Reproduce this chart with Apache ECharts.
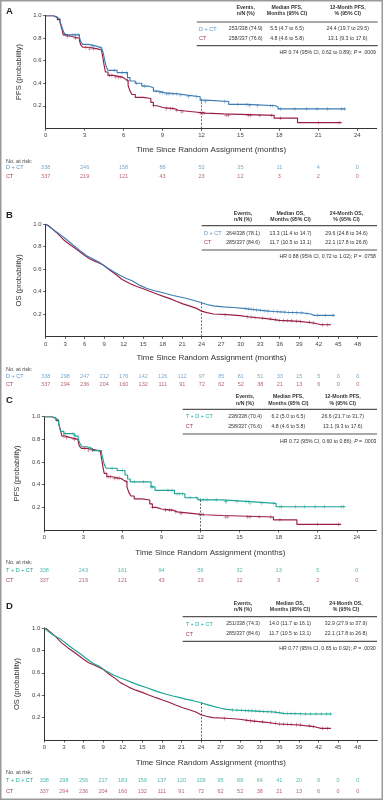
<!DOCTYPE html>
<html><head><meta charset="utf-8">
<script src="https://cdn.jsdelivr.net/npm/echarts@6/dist/echarts.min.js"></script>
<style>html,body{margin:0;padding:0;background:#fff}#c{width:383px;height:800px}</style>
</head><body><div id="c"></div><script>
// ---------- DATA ----------
const xTicksPFS = [0,3,6,9,12,15,18,21,24];
const xTicksOS = [0,3,6,9,12,15,18,21,24,27,30,33,36,39,42,45,48];
const yTicks = [0.2,0.4,0.6,0.8,1.0];

// Kaplan-Meier PFS step points [month, probability]
const pfsDCT = [[0,1],[0.6,0.985],[0.9,0.97],[1.1,0.95],[1.25,0.9],[1.4,0.85],[1.5,0.83],[2.6,0.81],[2.7,0.77],[2.85,0.745],[3.3,0.73],[3.9,0.715],[4.3,0.70],[4.45,0.66],[4.55,0.6],[4.65,0.55],[4.8,0.515],[5.5,0.495],[6.3,0.45],[6.5,0.42],[6.9,0.40],[7.4,0.375],[7.9,0.36],[8.3,0.33],[8.7,0.315],[9.2,0.305],[10.3,0.295],[10.9,0.28],[11.9,0.25],[12.3,0.238],[14.1,0.212],[15.6,0.2],[17.7,0.19],[17.9,0.172],[23.1,0.172]];
const pfsCT = [[0,1],[0.6,0.985],[0.9,0.965],[1.1,0.94],[1.25,0.88],[1.35,0.83],[1.6,0.815],[2.0,0.80],[2.6,0.78],[2.7,0.74],[2.85,0.72],[3.3,0.705],[4.0,0.695],[4.3,0.68],[4.4,0.63],[4.5,0.56],[4.6,0.5],[4.8,0.47],[5.2,0.455],[5.9,0.44],[6.1,0.425],[6.35,0.38],[6.5,0.33],[6.65,0.30],[6.9,0.275],[7.5,0.265],[8.1,0.23],[8.3,0.2],[8.6,0.185],[9.0,0.175],[9.9,0.16],[10.2,0.145],[11.5,0.135],[12.3,0.128],[13.7,0.115],[17.6,0.09],[19.4,0.05],[22.8,0.05]];
const pfsTDCT = [[0,1],[0.6,0.985],[0.9,0.97],[1.1,0.94],[1.25,0.87],[1.5,0.85],[2.3,0.83],[2.6,0.805],[2.75,0.76],[2.9,0.735],[3.3,0.72],[3.7,0.70],[4.4,0.675],[4.5,0.63],[4.6,0.58],[4.75,0.545],[5.6,0.525],[6.2,0.485],[6.4,0.45],[6.6,0.425],[8.2,0.38],[8.5,0.35],[10.0,0.32],[10.8,0.285],[11.8,0.266],[13.7,0.25],[15.8,0.235],[17.8,0.205],[23.1,0.205]];

// OS curves [month, probability]
const osDCT = [[0,1],[0.5,0.98],[1.2,0.95],[2.2,0.91],[3.2,0.865],[4.2,0.815],[5.3,0.765],[6.3,0.72],[7.3,0.69],[8.3,0.66],[9.4,0.615],[10.4,0.578],[11.4,0.545],[12.5,0.515],[13.3,0.497],[14.5,0.455],[15.5,0.43],[16.6,0.41],[17.6,0.396],[18.6,0.38],[19.6,0.365],[20.7,0.352],[21.7,0.338],[22.7,0.323],[24,0.30],[24.8,0.285],[25.8,0.272],[27.3,0.264],[28.9,0.258],[30.4,0.25],[31.9,0.24],[33.5,0.23],[35,0.222],[37,0.215],[39.6,0.209],[40.8,0.2],[41.2,0.188],[44.5,0.188]];
const osCT = [[0,1],[0.4,0.99],[0.7,0.98],[1.7,0.925],[2.7,0.865],[3.7,0.82],[4.8,0.775],[5.8,0.73],[6.8,0.69],[7.8,0.665],[8.9,0.635],[9.9,0.59],[10.9,0.548],[11.7,0.51],[12.2,0.495],[13,0.47],[14,0.445],[15,0.425],[16,0.402],[17.1,0.378],[18.1,0.357],[19.1,0.337],[20.1,0.313],[21.1,0.29],[22.2,0.27],[23.2,0.25],[24,0.225],[24.8,0.212],[25.8,0.2],[27.9,0.194],[29.9,0.185],[31.4,0.173],[34,0.158],[35.9,0.143],[39,0.134],[41.2,0.12],[42.4,0.104],[43.9,0.104]];
const osTDCT = [[0,1],[0.5,0.975],[1.4,0.935],[2.4,0.905],[3.4,0.86],[4.4,0.815],[5.5,0.77],[6.5,0.726],[7.5,0.683],[8.5,0.655],[9.5,0.615],[10.6,0.58],[11.6,0.556],[12.6,0.534],[13.6,0.51],[14.6,0.488],[15.7,0.467],[16.7,0.445],[17.7,0.425],[18.7,0.408],[19.7,0.393],[20.8,0.378],[21.8,0.363],[22.8,0.351],[24,0.333],[24.8,0.318],[25.9,0.3],[26.9,0.286],[27.9,0.274],[29,0.268],[31,0.262],[33,0.256],[35.1,0.25],[36.6,0.238],[40.2,0.232],[44,0.232]];

// censoring times (PFS) and censor marks (OS)
const censPfsDCT = [2.1,2.3,2.5,3.6,4.2,5.3,5.9,6.2,7.0,7.6,8.5,8.8,9.0,9.3,9.5,9.8,10.1,10.4,11.0,11.6,12.0,12.3,13.8,14.8,15.5,15.7,16.3,17.3,17.5,18.1,19.2,20.1,20.9,21.7,22.8,23.0];
const censPfsCT = [1.5,1.7,2.3,3.1,3.4,3.7,4.9,5.1,5.4,5.6,5.8,6.3,8.3,9.3,9.6,9.8,10.1,10.5,11.9,12.1,12.2,13.9,14.1,15.6,15.8,16.5,17.4,18.1,21.0,22.6];
const censPfsTDCT = [1.6,2.2,2.4,3.5,4.2,5.2,6.0,6.9,7.6,8.2,8.3,9.5,9.8,10.2,10.4,10.6,11.2,11.7,12.0,12.2,12.5,13.2,13.9,14.0,14.8,15.5,15.7,15.8,16.7,17.6,18.1,18.2,19.3,20.0,20.8,21.5,22.8,23.0];
const censOsDCT = [[30.8,0.25],[31.2,0.245],[31.6,0.243],[32.0,0.24],[32.4,0.235],[33.0,0.232],[33.6,0.228],[34.2,0.225],[35.0,0.222],[35.6,0.22],[36.2,0.218],[36.8,0.217],[37.4,0.215],[38.0,0.213],[38.6,0.212],[39.4,0.21],[40.2,0.205],[41.8,0.188],[43.0,0.188],[44.2,0.188]];
const censOsCT = [[27.6,0.192],[31.0,0.175],[31.6,0.172],[32.2,0.168],[33.4,0.163],[34.6,0.156],[35.4,0.15],[36.0,0.143],[36.6,0.142],[37.2,0.141],[37.8,0.14],[38.6,0.136],[39.2,0.134],[40.6,0.128],[41.2,0.12],[42.6,0.104],[43.4,0.104]];
const censOsTDCT = [[28.8,0.268],[29.5,0.267],[30.2,0.266],[30.8,0.264],[31.3,0.263],[31.8,0.262],[32.4,0.26],[33.0,0.257],[33.6,0.256],[34.2,0.254],[34.8,0.252],[35.4,0.249],[36.0,0.246],[36.6,0.238],[37.2,0.237],[37.8,0.236],[38.4,0.235],[39.2,0.234],[40.0,0.233],[40.8,0.232],[41.6,0.232],[42.4,0.232],[43.2,0.232],[43.8,0.232]];

// numbers at risk
const riskPfsDCT = [338,246,158,88,53,35,11,4,0];
const riskPfsCT = [337,219,121,43,23,12,3,2,0];
const riskPfsTDCT = [338,243,161,94,56,32,13,5,0];
const riskOsDCT = [338,298,247,212,176,142,126,112,97,85,81,51,33,15,5,0,0];
const riskOsCT = [337,294,236,204,160,132,111,91,72,62,52,38,21,13,6,0,0];
const riskOsTDCT = [338,298,256,217,183,159,137,120,109,95,88,64,41,20,9,0,0];

// tables
const headPFS = [['Events,','n/N (%)'],['Median PFS,','Months (95% CI)'],['12-Month PFS,','% (95% CI)']];
const headOS = [['Events,','n/N (%)'],['Median OS,','Months (95% CI)'],['24-Month OS,','% (95% CI)']];
const rowsA = [['D + CT','253/338 (74.9)','5.5 (4.7 to 6.5)','24.4 (19.7 to 29.5)'],['CT','258/337 (76.6)','4.8 (4.6 to 5.8)','13.1 (9.3 to 17.6)']];
const rowsB = [['D + CT','264/338 (78.1)','13.3 (11.4 to 14.7)','29.6 (24.8 to 34.6)'],['CT','285/337 (84.6)','11.7 (10.5 to 13.1)','22.1 (17.8 to 26.8)']];
const rowsC = [['T + D + CT','238/338 (70.4)','6.2 (5.0 to 6.5)','26.6 (21.7 to 31.7)'],['CT','258/337 (76.6)','4.8 (4.6 to 5.8)','13.1 (9.3 to 17.6)']];
const rowsD = [['T + D + CT','251/338 (74.3)','14.0 (11.7 to 16.1)','32.9 (27.9 to 37.9)'],['CT','285/337 (84.6)','11.7 (10.5 to 13.1)','22.1 (17.8 to 26.8)']];
const hrA = ['0.74','0.62 to 0.89','.0009'];
const hrB = ['0.88','0.72 to 1.02','.0758'];
const hrC = ['0.72','0.60 to 0.86','.0003'];
const hrD = ['0.77','0.65 to 0.92','.0030'];

// ---------- STYLE / LAYOUT ----------
const FONT = "'Liberation Sans', Arial, sans-serif";
const BLUE = '#3d7cb2', TEAL = '#1ea596', RED = '#9a1f42';
const BLUE_T = '#5a92c2', TEAL_T = '#25a99b', RED_T = '#a63a5a';
const TXT = '#333';

function stepAt(arr, t) { let p = arr[0][1]; for (const [x, y] of arr) { if (x <= t) p = y; else break; } return p; }

const panels = [
  { letter:'A', letterY:11.7, grid:{left:45.7, top:15.7, width:331, height:112.6}, xmax:25.5, ticks:xTicksPFS, yname:'PFS (probability)', step:'end', xNameGap:17.5,
    exp:{name:'D + CT', curve:pfsDCT, cens:censPfsDCT.map(t=>[t,stepAt(pfsDCT,t)]), risk:riskPfsDCT, color:BLUE, tcolor:BLUE_T},
    ctl:{name:'CT', curve:pfsCT, cens:censPfsCT.map(t=>[t,stepAt(pfsCT,t)]), risk:riskPfsCT, color:RED, tcolor:RED_T},
    mark:12, risk:{top:163.2, height:18, label:161},
    tbl:{head:headPFS, rows:rowsA, hr:hrA, x1:196.7, x2:377.7, headY:[7.3,14], topY:22, rowY:[29,38.7], botY:45.7, hrY:52.3, hrX:376, labelX:199, cols:[245.7,287,347.7]} },
  { letter:'B', letterY:215, grid:{left:45.7, top:224.3, width:331.5, height:112.1}, xmax:51, ticks:xTicksOS, yname:'OS (probability)', step:false, xNameGap:17.3,
    exp:{name:'D + CT', curve:osDCT, cens:censOsDCT, risk:riskOsDCT, color:BLUE, tcolor:BLUE_T},
    ctl:{name:'CT', curve:osCT, cens:censOsCT, risk:riskOsCT, color:RED, tcolor:RED_T},
    mark:24, risk:{top:372.9, height:15.3, label:369},
    tbl:{head:headOS, rows:rowsB, hr:hrB, x1:201.7, x2:377, headY:[213.3,219.3], topY:225.7, rowY:[233.3,242.7], botY:250, hrY:256.7, hrX:376, labelX:204, cols:[243,290.5,346.5]} },
  { letter:'C', letterY:400, grid:{left:44.3, top:416.7, width:332, height:113.3}, xmax:25.5, ticks:xTicksPFS, yname:'PFS (probability)', step:'end', xNameGap:18.3,
    exp:{name:'T + D + CT', curve:pfsTDCT, cens:censPfsTDCT.map(t=>[t,stepAt(pfsTDCT,t)]), risk:riskPfsTDCT, color:TEAL, tcolor:TEAL_T},
    ctl:{name:'CT', curve:pfsCT, cens:censPfsCT.map(t=>[t,stepAt(pfsCT,t)]), risk:riskPfsCT, color:RED, tcolor:RED_T},
    mark:12, risk:{top:565.3, height:20, label:562.7},
    tbl:{head:headPFS, rows:rowsC, hr:hrC, x1:182.7, x2:377, headY:[396.7,403.3], topY:409.3, rowY:[416.3,426.7], botY:434, hrY:441.7, hrX:376.5, labelX:185.7, cols:[245,288.3,342.7]} },
  { letter:'D', letterY:606.7, grid:{left:44.3, top:628, width:333, height:112}, xmax:51, ticks:xTicksOS, yname:'OS (probability)', step:false, xNameGap:18.3,
    exp:{name:'T + D + CT', curve:osTDCT, cens:censOsTDCT, risk:riskOsTDCT, color:TEAL, tcolor:TEAL_T},
    ctl:{name:'CT', curve:osCT, cens:censOsCT, risk:riskOsCT, color:RED, tcolor:RED_T},
    mark:24, risk:{top:775, height:21.4, label:772.7},
    tbl:{head:headOS, rows:rowsD, hr:hrD, x1:182.7, x2:377, headY:[604,610], topY:616.7, rowY:[624,634], botY:641.3, hrY:648.7, hrX:375.7, labelX:185.7, cols:[243,290,346]} }
];

const PLUS = 'path://M4.35,0H5.65V4.35H10V5.65H5.65V10H4.35V5.65H0V4.35H4.35Z';

const grid = [], xAxis = [], yAxis = [], series = [], graphic = [];

graphic.push({type:'rect', shape:{x:0.75, y:0.75, width:381.5, height:798.5}, style:{fill:'none', stroke:'#9a9a9a', lineWidth:1.5}, silent:true});

panels.forEach((P, k) => {
  const gi = grid.length;
  grid.push(P.grid);
  xAxis.push({
    type:'value', gridIndex:gi, min:0, max:P.xmax,
    name:'Time Since Random Assignment (months)', nameLocation:'middle', nameGap:P.xNameGap,
    nameTextStyle:{fontFamily:FONT, fontSize:8, color:TXT},
    axisLine:{lineStyle:{color:'#333', width:1}},
    axisTick:{customValues:P.ticks, length:2.5, lineStyle:{color:'#333', width:0.8}},
    axisLabel:{customValues:P.ticks, fontFamily:FONT, fontSize:6, color:'#444', margin:4.5},
    splitLine:{show:false}
  });
  yAxis.push({
    type:'value', gridIndex:gi, min:0, max:1,
    name:P.yname, nameLocation:'middle', nameGap:17,
    nameTextStyle:{fontFamily:FONT, fontSize:7.5, color:TXT},
    axisLine:{show:true, lineStyle:{color:'#333', width:1}},
    axisTick:{show:true, customValues:yTicks, length:2.5, lineStyle:{color:'#333', width:0.8}},
    axisLabel:{customValues:yTicks, fontFamily:FONT, fontSize:6, color:'#444', margin:4, formatter:v=>v.toFixed(1)},
    splitLine:{show:false}
  });
  const markP = stepAt(P.exp.curve, P.mark);
  [P.ctl, P.exp].forEach((S, j) => {
    const isExp = j === 1;
    series.push({
      type:'line', xAxisIndex:gi, yAxisIndex:gi, data:S.curve, step:P.step, showSymbol:false,
      lineStyle:{color:S.color, width:1.15}, itemStyle:{color:S.color}, z:isExp?3:2, silent:true,
      markLine: isExp ? {silent:true, symbol:['none','none'], label:{show:false},
        lineStyle:{type:[2,1.5], color:'#444', width:0.8},
        data:[[{coord:[P.mark,0]},{coord:[P.mark,markP]}]]} : undefined
    });
    series.push({
      type:'scatter', xAxisIndex:gi, yAxisIndex:gi, data:S.cens, symbol:PLUS, symbolSize:3.8,
      itemStyle:{color:S.color}, z:isExp?4:3, silent:true
    });
  });
  // at-risk grid
  const ri = grid.length;
  grid.push({left:P.grid.left, width:P.grid.width, top:P.risk.top, height:P.risk.height});
  xAxis.push({type:'value', gridIndex:ri, min:0, max:P.xmax, show:false});
  yAxis.push({type:'category', gridIndex:ri, inverse:true, data:[P.exp.name, P.ctl.name], show:false});
  [P.exp, P.ctl].forEach((S, r) => {
    series.push({
      type:'scatter', xAxisIndex:ri, yAxisIndex:ri, symbolSize:1, silent:true,
      itemStyle:{color:'rgba(0,0,0,0)'},
      data:P.ticks.map((t,i)=>[t, r, S.risk[i]]),
      label:{show:true, position:'inside', formatter:p=>String(p.value[2]), color:S.tcolor, fontFamily:FONT, fontSize:5.5}
    });
    const rowY = P.risk.top + P.risk.height * (r === 0 ? 0.25 : 0.75);
    graphic.push({type:'text', x:6, y:rowY, silent:true, style:{text:S.name, fill:S.tcolor, fontFamily:FONT, fontSize:5.5, align:'left', verticalAlign:'middle'}});
  });
  graphic.push({type:'text', x:6, y:P.risk.label, silent:true, style:{text:'No. at risk:', fill:'#444', fontFamily:FONT, fontSize:5.5, align:'left', verticalAlign:'middle'}});
  graphic.push({type:'text', x:6, y:P.letterY, silent:true, style:{text:P.letter, fill:'#222', fontFamily:FONT, fontWeight:'bold', fontSize:9.5, align:'left', verticalAlign:'middle'}});
  // table
  const T = P.tbl;
  T.head.forEach((h, c) => {
    h.forEach((line, l) => {
      graphic.push({type:'text', x:T.cols[c], y:T.headY[l], silent:true, style:{text:line, fill:'#333', fontFamily:FONT, fontWeight:'bold', fontSize:5.2, align:'center', verticalAlign:'middle'}});
    });
  });
  graphic.push({type:'line', silent:true, shape:{x1:T.x1, y1:T.topY, x2:T.x2, y2:T.topY}, style:{stroke:'#555', lineWidth:1.2}});
  graphic.push({type:'line', silent:true, shape:{x1:T.x1, y1:T.botY, x2:T.x2, y2:T.botY}, style:{stroke:'#555', lineWidth:1.2}});
  T.rows.forEach((row, r) => {
    const col = r === 0 ? P.exp.tcolor : P.ctl.tcolor;
    graphic.push({type:'text', x:T.labelX, y:T.rowY[r], silent:true, style:{text:row[0], fill:col, fontFamily:FONT, fontSize:5.5, align:'left', verticalAlign:'middle'}});
    for (let c = 1; c < 4; c++) {
      graphic.push({type:'text', x:T.cols[c-1], y:T.rowY[r], silent:true, style:{text:row[c], fill:'#333', fontFamily:FONT, fontSize:5.2, align:'center', verticalAlign:'middle'}});
    }
  });
  graphic.push({type:'text', x:T.hrX, y:T.hrY, silent:true, style:{
    text:'HR ' + T.hr[0] + ' (95% CI, ' + T.hr[1] + '); {i|P} = ' + T.hr[2],
    fill:'#333', fontFamily:FONT, fontSize:5.2, align:'right', verticalAlign:'middle',
    rich:{i:{fontStyle:'italic', fontFamily:FONT, fontSize:5.2, fill:'#333'}}}});
});

const chart = echarts.init(document.getElementById('c'), null, {renderer:'canvas'});
chart.setOption({animation:false, backgroundColor:'#fff', grid, xAxis, yAxis, series, graphic});
</script></body></html>
